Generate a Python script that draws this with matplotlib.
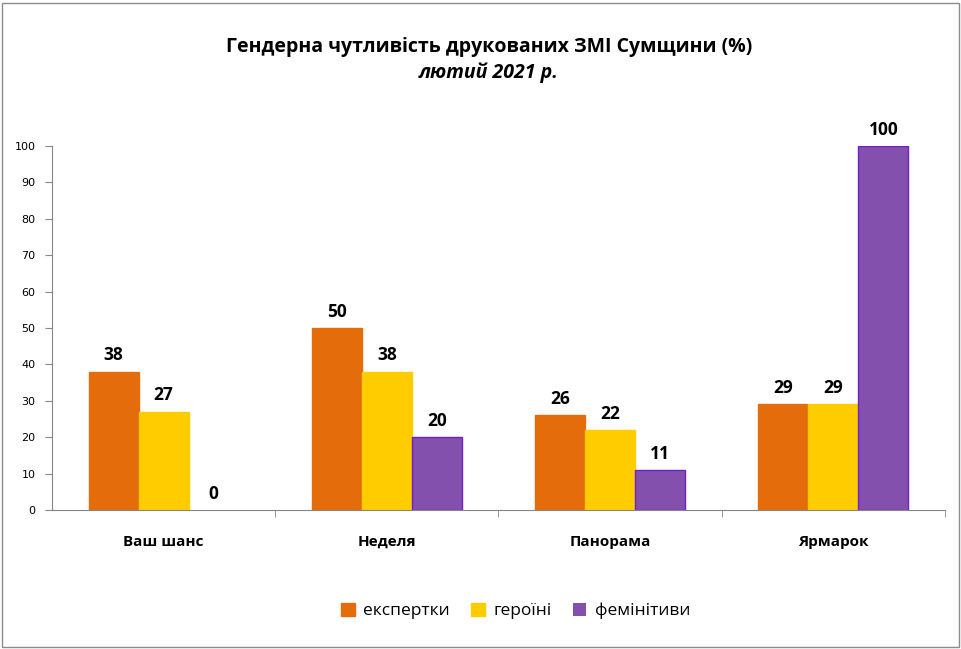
import matplotlib.pyplot as plt
import numpy as np
from matplotlib.patches import Rectangle

categories = ["Ваш шанс", "Неделя", "Панорама", "Ярмарок"]
series_names = ["експертки", "героїні", "фемінітиви"]
experts = [38, 50, 26, 29]
heroines = [27, 38, 22, 29]
feminitives = [0, 20, 11, 100]

fam = ['Open Sans', 'DejaVu Sans']
plt.rcParams['font.family'] = fam

fig = plt.figure(figsize=(9.62, 6.49), dpi=100)
ax = fig.add_axes([52/962, (649-510)/649, (945-52)/962, (510-146)/649])

# chart frame
fig.patches.append(Rectangle((2/962, 2/649), 957/962, 644/649, transform=fig.transFigure,
                             fill=False, edgecolor='#8c8c8c', linewidth=1.0))

x = np.arange(len(categories))
w = 0.224
colors = ['#E46C0A', '#FFCC00', '#8350AE']
edges = ['#E46C0A', '#FFCC00', '#7020C8']
data = [experts, heroines, feminitives]
for i, vals in enumerate(data):
    pos = x + (i - 1) * w
    bars = ax.bar(pos, vals, width=w, color=colors[i], edgecolor=edges[i], linewidth=1.0,
                  label=series_names[i])
    for b, v in zip(bars, vals):
        if v == 0:
            b.set_edgecolor('none')
    for p, v in zip(pos, vals):
        ax.text(p, v + 4.5, str(v), ha='center', va='center', fontsize=12.5,
                fontweight='bold', color='black')

ax.set_xlim(-0.5, len(categories) - 0.5)
ax.set_ylim(0, 100)
ax.set_yticks(range(0, 101, 10))
ax.tick_params(axis='y', labelsize=8, direction='out', length=5, color='#868686', pad=7)
ax.set_yticklabels([str(t) for t in range(0, 101, 10)], family=['DejaVu Sans'])
ax.set_xticks(x)
ax.set_xticklabels(categories, fontsize=11, fontweight='bold')
ax.tick_params(axis='x', length=0, pad=18)
ax.set_xticks(np.arange(0.5, len(categories) - 0.4, 1), minor=True)
ax.tick_params(axis='x', which='minor', direction='out', length=5, color='#868686')
for s in ['top', 'right']:
    ax.spines[s].set_visible(False)
for s in ['left', 'bottom']:
    ax.spines[s].set_color('#868686')

fig.text(0.508, 1 - 47/649, "Гендерна чутливість друкованих ЗМІ Сумщини (%)", ha='center',
         va='center', fontsize=14, fontweight='bold')
fig.text(0.508, 1 - 73/649, "лютий 2021 р.", ha='center', va='center', fontsize=14,
         fontweight='bold', style='italic')

fig.legend(loc='center', bbox_to_anchor=(0.536, 1 - 611/649), ncol=3, frameon=False,
           fontsize=12.5, handlelength=0.8, handleheight=0.8, columnspacing=1.2,
           handletextpad=0.5)

fig.savefig('out.png', dpi=100)
